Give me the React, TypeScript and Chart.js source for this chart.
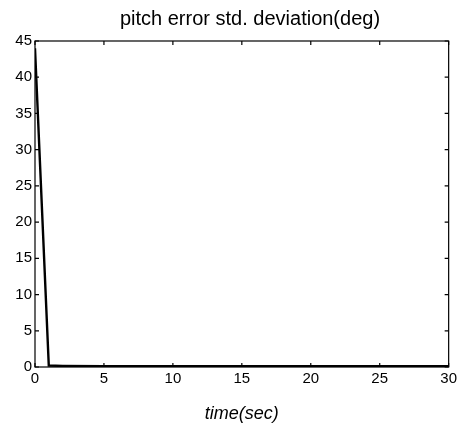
import React, { useEffect, useRef } from "react";
import { Chart, registerables } from "chart.js";

Chart.register(...registerables);

const TITLE = "pitch error std. deviation(deg)";
const X_LABEL = "time(sec)";
const timeSec = [0, 1, 2, 5, 10, 15, 20, 25, 30];
const pitchStd = [44, 0.2, 0.15, 0.12, 0.1, 0.1, 0.1, 0.1, 0.1];
const xTicks = [0, 5, 10, 15, 20, 25, 30];
const yTicks = [0, 5, 10, 15, 20, 25, 30, 35, 40, 45];

const FONT = "'Liberation Sans', Arial, Helvetica, sans-serif";

const boxPlugin = {
  id: "boxAndTicks",
  afterDraw(chart: any) {
    const { ctx, chartArea: a, scales } = chart;
    ctx.save();
    ctx.strokeStyle = "#000";
    ctx.lineWidth = 1.2;
    ctx.strokeRect(a.left, a.top, a.right - a.left, a.bottom - a.top);
    const L = 4;
    ctx.beginPath();
    xTicks.forEach((v) => {
      const px = scales.x.getPixelForValue(v);
      ctx.moveTo(px, a.bottom);
      ctx.lineTo(px, a.bottom - L);
      ctx.moveTo(px, a.top);
      ctx.lineTo(px, a.top + L);
    });
    yTicks.forEach((v) => {
      const py = scales.y.getPixelForValue(v);
      ctx.moveTo(a.left, py);
      ctx.lineTo(a.left + L, py);
      ctx.moveTo(a.right, py);
      ctx.lineTo(a.right - L, py);
    });
    ctx.stroke();
    ctx.fillStyle = "#000";
    ctx.font = `20px ${FONT}`;
    ctx.textAlign = "center";
    ctx.textBaseline = "alphabetic";
    ctx.fillText(TITLE, 250, 25);
    ctx.restore();
  },
};

export default function App() {
  const ref = useRef<HTMLCanvasElement>(null);
  useEffect(() => {
    const chart = new Chart(ref.current!, {
      type: "line",
      data: {
        datasets: [
          {
            data: timeSec.map((t, i) => ({ x: t, y: pitchStd[i] })),
            borderColor: "#000",
            borderWidth: 2.4,
            pointRadius: 0,
            tension: 0,
          },
        ],
      },
      options: {
        animation: false,
        responsive: false,
        maintainAspectRatio: false,
        layout: { padding: { top: 41, right: 9, left: 0, bottom: 0 } },
        plugins: { legend: { display: false }, tooltip: { enabled: false }, title: { display: false } },
        scales: {
          x: {
            type: "linear",
            min: 0,
            max: 30,
            afterBuildTicks: (s: any) => {
              s.ticks = xTicks.map((v) => ({ value: v }));
            },
            afterFit: (s: any) => {
              s.height = 58;
            },
            grid: { display: false, drawTicks: false },
            border: { display: false },
            ticks: { color: "#000", font: { family: FONT, size: 15 }, padding: 3, maxRotation: 0 },
            title: {
              display: true,
              text: X_LABEL,
              color: "#000",
              font: { family: FONT, size: 18, style: "italic" },
              padding: { top: 0, bottom: 0 },
            },
          },
          y: {
            type: "linear",
            min: 0,
            max: 45,
            afterBuildTicks: (s: any) => {
              s.ticks = yTicks.map((v) => ({ value: v }));
            },
            afterFit: (s: any) => {
              s.width = 35;
            },
            grid: { display: false, drawTicks: false },
            border: { display: false },
            ticks: { color: "#000", font: { family: FONT, size: 15 }, padding: 3 },
          },
        },
      },
      plugins: [boxPlugin],
    });
    return () => chart.destroy();
  }, []);
  return (
    <div style={{ position: "fixed", left: 0, top: 0, width: 460, height: 425, background: "#fff" }}>
      <canvas ref={ref} width={460} height={425} style={{ width: 460, height: 425, display: "block" }} />
    </div>
  );
}
